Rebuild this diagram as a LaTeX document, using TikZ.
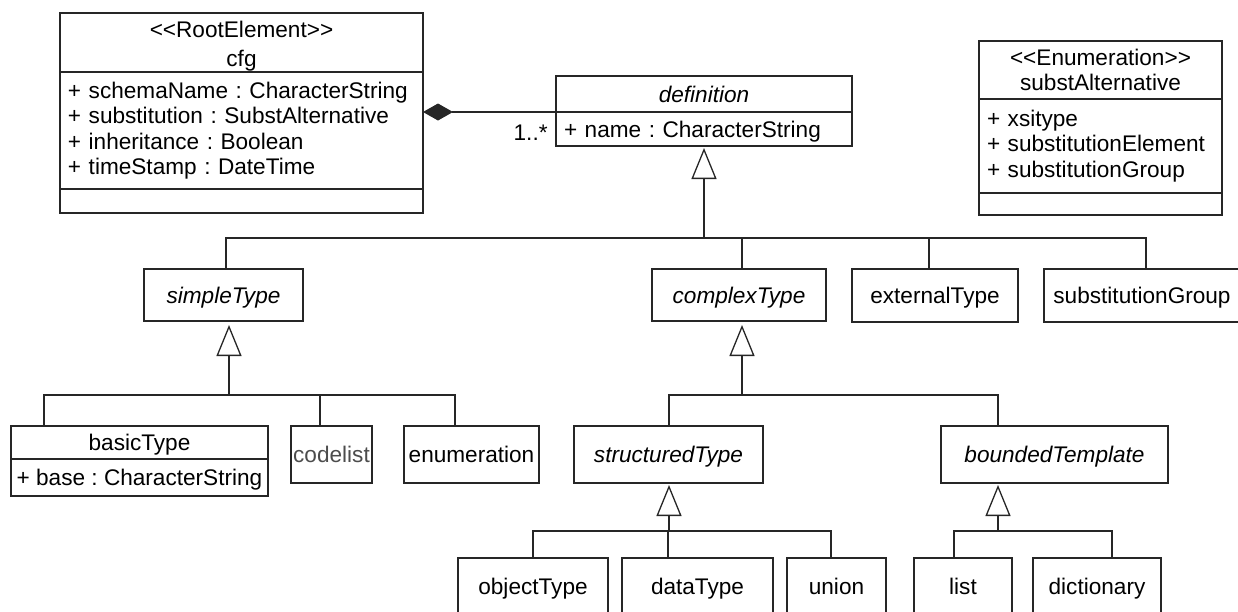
\documentclass[tikz,border=0pt]{standalone}
\usepackage{fontspec}
\setmainfont{Liberation Sans}
\usetikzlibrary{arrows.meta}
\frenchspacing

\newcommand{\stereo}[1]{<\kern0pt<#1>\kern0pt>}

\tikzset{
	cls/.style={draw=black!85, line width=0.65pt, inner sep=0pt, outer sep=0pt, anchor=north west, align=center, font=\fontsize{11.3}{12.7}\selectfont},
	one/.style={cls, text height=8.1pt, text depth=0pt},
	attr/.style={cls, align=left, inner xsep=4pt},
	link/.style={draw=black!85, line width=0.65pt},
	gen/.style={link, -{Triangle[open, length=15.5pt, width=12.5pt]}},
	comp/.style={link, -{Diamond[length=15pt, width=8.5pt]}}
}

\begin{document}
\begin{tikzpicture}[x=0.5pt, y=-0.5pt]
			\useasboundingbox (0,0) rectangle (1238,611);
			\clip (0,0) rectangle (1238,611);

			\node[cls, minimum width=181.5pt, minimum height=29.5pt] (cfgHead) at (60,13) {\rule{0pt}{12pt}\stereo{RootElement}\\[1.5pt]cfg};
			\node[attr, text width=173.5pt, minimum height=58.5pt] (cfgAttr) at (cfgHead.south west) {+ schemaName : CharacterString\\+ substitution : SubstAlternative\\+ inheritance : Boolean\\+ timeStamp : DateTime};
			\node[cls, minimum width=181.5pt, minimum height=12pt] (cfgOps) at (cfgAttr.south west) {};

			\node[one, minimum width=148pt, minimum height=18pt] (defHead) at (556,76) {\textit{definition}};
			\node[attr, text width=140pt, minimum height=17pt, text height=8.1pt, text depth=0pt] (defAttr) at (defHead.south west) {+ name : CharacterString};

			\node[cls, minimum width=121.5pt, minimum height=29pt] (substHead) at (979,41) {\stereo{Enumeration}\\substAlternative};
			\node[attr, text width=113.5pt, minimum height=47pt] (substAttr) at (substHead.south west) {+ xsitype\\+ substitutionElement\\+ substitutionGroup};
			\node[cls, minimum width=121.5pt, minimum height=11pt] (substOps) at (substAttr.south west) {};

			\node[one, minimum width=79.5pt, minimum height=26pt] (simple) at (144,269) {\textit{simpleType}};
			\node[one, minimum width=87pt, minimum height=26pt] (complex) at (652,269) {\textit{complexType}};
			\node[one, minimum width=83pt, minimum height=26.5pt] (external) at (852,269) {externalType};
			\node[one, minimum width=98pt, minimum height=26.5pt] (substGroup) at (1044,269) {substitutionGroup};

			\node[one, minimum width=128.5pt, minimum height=16.5pt] (basicHead) at (11,426) {basicType};
			\node[one, minimum width=128.5pt, minimum height=18.5pt] (basicAttr) at (basicHead.south west) {+ base : CharacterString};
			\node[one, minimum width=40.5pt, minimum height=28.5pt, text=black!70] (codelist) at (291,426) {codelist};
			\node[one, minimum width=67.5pt, minimum height=28.5pt] (enumeration) at (404,426) {enumeration};
			\node[one, minimum width=94.5pt, minimum height=28.5pt] (structured) at (574,426) {\textit{structuredType}};
			\node[one, minimum width=113.5pt, minimum height=28.5pt] (bounded) at (941,426) {\textit{boundedTemplate}};

			\node[one, minimum width=75pt, minimum height=28.5pt] (objectType) at (458,558) {objectType};
			\node[one, minimum width=75.5pt, minimum height=28.5pt] (dataType) at (622,558) {dataType};
			\node[one, minimum width=49.5pt, minimum height=28.5pt] (union) at (787,558) {union};
			\node[one, minimum width=49pt, minimum height=28.5pt] (list) at (914,558) {list};
			\node[one, minimum width=64pt, minimum height=28.5pt] (dictionary) at (1033,558) {dictionary};

			\draw[comp] (defAttr.north west) -- (defAttr.north west -| cfgAttr.east);
			\node[anchor=east, inner sep=0pt, font=\fontsize{11.3}{12.7}\selectfont] (multi) at ([xshift=-4pt, yshift=-2pt]defAttr.west) {1..*};

			\coordinate (defJoin) at (704,238);
			\coordinate (simpleJoin) at (229,395);
			\coordinate (complexJoin) at (742,395);
			\coordinate (structJoin) at (669,531);
			\coordinate (boundJoin) at (998,531);

			\draw[gen] (defJoin) -- ([yshift=-1pt]defAttr.south);
			\draw[link] (226,0 |- simple.north) |- (defJoin);
			\draw[link] (742,0 |- complex.north) |- (defJoin);
			\draw[link] (929,0 |- external.north) |- (defJoin);
			\draw[link] (1146,0 |- substGroup.north) |- (defJoin);

			\draw[gen] (simpleJoin) -- ([yshift=-2pt]simpleJoin |- simple.south);
			\draw[link] (44,0 |- basicHead.north) |- (simpleJoin);
			\draw[link] (320,0 |- codelist.north) |- (simpleJoin);
			\draw[link] (455,0 |- enumeration.north) |- (simpleJoin);

			\draw[gen] (complexJoin) -- ([yshift=-2pt]complexJoin |- complex.south);
			\draw[link] (669,0 |- structured.north) |- (complexJoin);
			\draw[link] (998,0 |- bounded.north) |- (complexJoin);

			\draw[gen] (structJoin) -- ([yshift=-1pt]structJoin |- structured.south);
			\draw[link] (533,0 |- objectType.north) |- (structJoin);
			\draw[link] (668,0 |- dataType.north) |- (structJoin);
			\draw[link] (831,0 |- union.north) |- (structJoin);

			\draw[gen] (boundJoin) -- ([yshift=-1pt]boundJoin |- bounded.south);
			\draw[link] (954,0 |- list.north) |- (boundJoin);
			\draw[link] (1112,0 |- dictionary.north) |- (boundJoin);
\end{tikzpicture}
\end{document}
